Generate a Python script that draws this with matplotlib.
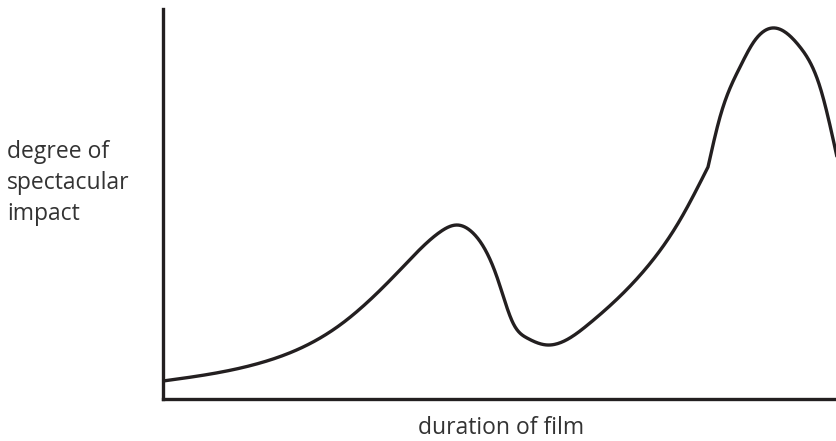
import numpy as np
import matplotlib
matplotlib.use("Agg")
import matplotlib.pyplot as plt

# Data (arbitrary units: x 0..100 duration, y 0..100 impact)
duration = [0, 14.39, 26.26, 35.16, 41.10, 43.62, 45.99, 49.55, 51.93, 54.01,
            56.97, 63.35, 71.07, 76.71, 80.86, 82.64, 85.61, 87.54, 90.80,
            94.51, 97.48, 100]
impact = [4.49, 9.11, 18.87, 32.99, 42.75, 44.54, 42.49, 31.19, 19.38, 15.53,
          13.74, 19.38, 32.22, 45.83, 59.43, 72.27, 85.11, 91.27, 95.12,
          90.24, 79.97, 62.0]
kink_at = 80.86  # the drawn curve has a visible bend at this point

x_label = "duration of film"
y_label = "degree of\nspectacular\nimpact"


def spline_render(xs, ys, n=40):
    """Natural cubic spline rendering of a polyline for a smooth stroke."""
    x = np.asarray(xs, float)
    y = np.asarray(ys, float)
    N = len(x)
    h = np.diff(x)
    A = np.zeros((N, N))
    b = np.zeros(N)
    A[0, 0] = 1
    A[-1, -1] = 1
    for i in range(1, N - 1):
        A[i, i - 1] = h[i - 1]
        A[i, i] = 2 * (h[i - 1] + h[i])
        A[i, i + 1] = h[i]
        b[i] = 6 * ((y[i + 1] - y[i]) / h[i] - (y[i] - y[i - 1]) / h[i - 1])
    M = np.linalg.solve(A, b)
    ox, oy = [], []
    for i in range(N - 1):
        t = np.linspace(x[i], x[i + 1], n, endpoint=False)
        a = x[i + 1] - t
        c = t - x[i]
        s = (M[i] * a ** 3 + M[i + 1] * c ** 3) / (6 * h[i]) \
            + (y[i] / h[i] - M[i] * h[i] / 6) * a \
            + (y[i + 1] / h[i] - M[i + 1] * h[i] / 6) * c
        ox.append(t)
        oy.append(s)
    ox.append([x[-1]])
    oy.append([y[-1]])
    return np.concatenate(ox), np.concatenate(oy)


k = duration.index(kink_at)
x1, y1 = spline_render(duration[:k + 1], impact[:k + 1])
x2, y2 = spline_render(duration[k:], impact[k:])
cx = np.concatenate([x1, x2[1:]])
cy = np.concatenate([y1, y2[1:]])

plt.rcParams['font.family'] = ['Open Sans', 'DejaVu Sans']

fig = plt.figure(figsize=(8.37, 4.41), dpi=100)
W, H = 837, 441
ax = fig.add_axes([163 / W, (H - 398.5) / H, (W - 163) / W, (398.5 - 9) / H])

ax.plot(cx, cy, color="#231f20", lw=2.4, solid_capstyle="butt",
        solid_joinstyle="round", clip_on=False)

ax.set_xlim(0, 100)
ax.set_ylim(0, 100)
ax.set_xticks([])
ax.set_yticks([])
for s in ["top", "right"]:
    ax.spines[s].set_visible(False)
for s in ["left", "bottom"]:
    ax.spines[s].set_linewidth(2.4)
    ax.spines[s].set_color("#231f20")

fig.text(7 / W, 1 - 183 / H, y_label, ha="left", va="center", fontsize=16.5,
         color="#333333", linespacing=1.4)
fig.text(501 / W, 1 - 428 / H, x_label, ha="center", va="center", fontsize=16.5,
         color="#333333")

fig.savefig("out.png", dpi=100)
